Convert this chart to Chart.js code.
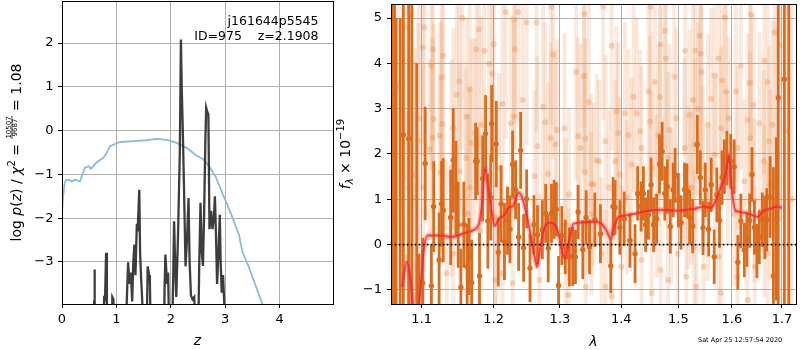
<!DOCTYPE html>
<html><head><meta charset="utf-8">
<script src="https://cdn.jsdelivr.net/npm/chart.js@4.4.1/dist/chart.umd.min.js"></script>
<style>
html,body{margin:0;padding:0;background:#fff;width:800px;height:350px;overflow:hidden}
#c1{position:absolute;left:0;top:0}
#c2{position:absolute;left:334px;top:0}
</style></head>
<body>
<canvas id="c1" width="334" height="350"></canvas>
<canvas id="c2" width="466" height="350"></canvas>
<script>
// ---------- tick labels ----------
const zTicks = [0, 1, 2, 3, 4];
const logPTicks = [-3, -2, -1, 0, 1, 2];
const lamTicks = [1.1, 1.2, 1.3, 1.4, 1.5, 1.6, 1.7];
const fluxTicks = [-1, 0, 1, 2, 3, 4, 5];

// ---------- left panel: redshift PDF ----------
const zBlue = [0.00, 0.02, 0.05, 0.07, 0.12, 0.18, 0.24, 0.33, 0.42, 0.49, 0.53, 0.64, 0.76, 0.82, 0.88, 0.98, 1.07, 1.32, 1.56, 1.74, 1.93, 2.11, 2.30, 2.45, 2.60, 2.70, 2.82, 2.97, 3.10, 3.25, 3.32, 3.43, 3.56, 3.68, 3.80];
const logPrior = [-1.90, -1.50, -1.20, -1.13, -1.12, -1.16, -1.12, -1.16, -0.85, -0.81, -0.875, -0.72, -0.62, -0.51, -0.36, -0.30, -0.26, -0.24, -0.22, -0.19, -0.21, -0.28, -0.40, -0.55, -0.66, -0.81, -1.04, -1.50, -1.88, -2.37, -2.79, -3.10, -3.55, -3.95, -4.40];

const zDark = [0.00, 0.58, 0.59, 0.596, 0.605, 0.62, 0.76, 0.775, 0.79, 0.81, 0.825, 0.84, 0.91, 0.925, 0.945, 0.96,
  1.17, 1.19, 1.215, 1.24, 1.265, 1.29, 1.31, 1.33, 1.35, 1.375, 1.39, 1.42, 1.435, 1.455, 1.475, 1.50,
  1.55, 1.575, 1.60, 1.615, 1.635, 1.87, 1.885, 1.90, 1.93, 1.95, 1.975, 2.02, 2.045, 2.06, 2.085, 2.10,
  2.13, 2.165, 2.185, 2.20, 2.22, 2.245, 2.27, 2.30, 2.325, 2.345, 2.37, 2.40, 2.43, 2.46, 2.50, 2.52,
  2.545, 2.57, 2.59, 2.61, 2.635, 2.65, 2.665, 2.69, 2.71, 2.74, 2.765, 2.79, 2.81, 2.83, 2.85, 2.875,
  2.90, 2.915, 2.935, 2.96, 2.98, 3.00, 5.00];
const logPz = [-5, -5, -3.9, -3.17, -3.9, -5, -5, -3.77, -3.9, -2.79, -3.9, -5, -5, -3.8, -3.85, -5,
  -5, -3.9, -3.01, -3.5, -3.24, -3.9, -3.0, -2.6, -3.3, -2.13, -2.3, -1.35, -2.79, -3.4, -3.9, -5,
  -5, -3.1, -3.3, -3.47, -5, -5, -3.6, -2.83, -3.5, -3.24, -5, -5, -3.2, -2.07, -3.3, -3.8,
  -2.5, -0.5, 2.08, 1.0, 0.0, -1.5, -3.1, -2.4, -1.54, -3.0, -3.77, -3.85, -3.8, -5, -5, -3.2,
  -1.65, -2.8, -3.09, -2.0, -0.2, 0.52, 0.45, 0.37, -2.25, -1.83, -2.25, -2.0, -1.5, -2.4, -3.5, -2.8,
  -1.92, -3.0, -3.7, -3.3, -3.9, -5, -5];

// ---------- right panel: spectrum ----------
const modelLam = [1.0744, 1.0804, 1.0848, 1.0882, 1.0920, 1.0970, 1.1022, 1.1079, 1.1236, 1.1417, 1.1555, 1.1694, 1.1789, 1.1827, 1.1874, 1.1907, 1.1956, 1.2013, 1.2075, 1.2148, 1.2221, 1.2284, 1.2369, 1.2418, 1.2484, 1.2544, 1.2609, 1.2644, 1.2680, 1.2746, 1.2822, 1.2900, 1.2977, 1.3045, 1.3082, 1.3145, 1.3213, 1.3345, 1.3561, 1.3669, 1.3751, 1.3824, 1.3862, 1.3946, 1.4058, 1.4228, 1.4457, 1.4689, 1.4987, 1.5291, 1.5475, 1.5598, 1.5692, 1.5786, 1.5881, 1.5946, 1.5983, 1.6073, 1.6236, 1.6334, 1.6498, 1.6631, 1.6763, 1.6898, 1.7000];
const modelFlux = [-0.93, -0.38, -0.71, -1.29, -1.60, -1.22, -0.20, 0.20, 0.20, 0.17, 0.24, 0.31, 0.46, 0.82, 1.69, 1.40, 0.90, 0.42, 0.57, 0.64, 0.82, 0.86, 1.15, 1.04, 0.68, 0.24, -0.27, -0.49, -0.20, 0.31, 0.49, 0.46, 0.24, -0.20, -0.31, 0.09, 0.46, 0.49, 0.51, 0.46, 0.31, 0.13, 0.31, 0.60, 0.64, 0.68, 0.75, 0.77, 0.75, 0.79, 0.84, 0.81, 0.97, 1.26, 1.55, 1.99, 1.40, 0.75, 0.71, 0.68, 0.61, 0.75, 0.79, 0.84, 0.81];

const darkLam = [
  1.0612, 1.0645, 1.0666, 1.0719, 1.0759, 1.0828, 1.0870, 1.0935, 1.0965, 1.1014,
  1.1047, 1.1130, 1.1161, 1.1234, 1.1268, 1.1290, 1.1392, 1.1428, 1.1465, 1.1496,
  1.1534, 1.1575, 1.1621, 1.1648, 1.1685, 1.1741, 1.1764, 1.1796, 1.1841, 1.1883,
  1.1916, 1.1957, 1.1971, 1.2037, 1.2067, 1.2108, 1.2157, 1.2202, 1.2238, 1.2277,
  1.2322, 1.2367, 1.2397, 1.2442, 1.2487, 1.2538, 1.2598, 1.2652, 1.2727, 1.2778,
  1.2817, 1.2868, 1.2907, 1.2943, 1.2978, 1.3029, 1.3084, 1.3149, 1.3202, 1.3246,
  1.3288, 1.3364, 1.3418, 1.3473, 1.3560, 1.3652, 1.3823, 1.3862, 1.3895, 1.3976, 1.4049,
  1.4148, 1.4235, 1.4280, 1.4339, 1.4379, 1.4419, 1.4466, 1.4513, 1.4558, 1.4610,
  1.4662, 1.4709, 1.4756, 1.4801, 1.4854, 1.4906, 1.4941, 1.5000, 1.5048, 1.5112,
  1.5155, 1.5205, 1.5261, 1.5347, 1.5402, 1.5453, 1.5495, 1.5559, 1.5607, 1.5663,
  1.5713, 1.5764, 1.5812, 1.5857, 1.5905, 1.5980, 1.6045, 1.6117, 1.6176, 1.6244,
  1.6295, 1.6349, 1.6394, 1.6442, 1.6493, 1.6541, 1.6600, 1.6652, 1.6691, 1.6758,
  1.6824, 1.6883, 1.6923, 1.7048, 1.7140];
const darkFlux = [
  8.0, -6.0, -3.0, -4.0, 2.42, 2.34, 7.0, -3.0, -1.5, -0.85,
  1.79, -0.91, 0.84, -0.34, 0.90, 0.76, 0.60, 1.86, 1.24, 0.44,
  -0.94, 0.44, -0.49, -0.26, -0.84, 1.84, 1.84, -0.69, 1.46, 2.45,
  0.52, 1.04, 2.67, 2.22, -0.17, 0.90, 0.07, 0.53, 0.34, 1.77,
  1.21, 0.17, 2.08, -0.07, 1.01, -0.52, 0.44, 0.22, 0.33, 0.69,
  -0.08, 0.69, 0.78, 0.78, -0.90, 0.20, -0.05, -0.27, -0.26, -0.27,
  0.72, -0.11, 0.60, -0.05, 0.55, 0.24, -0.47, 0.84, 0.82, 0.38, 0.57,
  0.09, -0.20, 1.13, 0.84, 1.13, 0.44, 0.66, 1.32, 0.44, 0.57,
  1.78, 2.06, 1.13, 1.28, 0.40, 1.21, 1.53, 0.98, 0.49, 1.21,
  1.19, 0.60, 0.41, 2.21, 1.48, 0.37, 1.21, 0.34, 1.32, -0.27,
  1.10, 0.53, 1.48, 1.72, 1.91, 1.84, 1.72, -0.39, 0.52, -0.12,
  0.11, 0.53, 1.55, 0.38, -0.14, 0.17, 0.55, 0.38, 0.55, 1.05,
  -0.69, 0.57, 3.24, 3.65, -3.0];
const darkErr = [
  12, 12, 8, 9, 6, 6, 10, 7, 1.3, 1.0,
  1.25, 0.9, 1.0, 1.05, 0.95, 1.15, 1.05, 1.15, 1.05, 0.95,
  0.85, 0.95, 0.95, 0.85, 0.95, 0.85, 0.75, 0.95, 0.95, 0.85,
  1.05, 0.95, 0.85, 0.95, 0.75, 0.85, 0.85, 0.75, 0.75, 0.75,
  0.65, 0.75, 0.85, 0.75, 0.65, 0.75, 0.65, 0.65, 0.65, 0.65,
  0.75, 0.65, 0.65, 0.6, 0.65, 0.65, 0.6, 0.65, 0.65, 0.6,
  0.6, 0.65, 0.6, 0.6, 0.6, 0.65, 0.6, 0.65, 0.6, 0.6, 0.6,
  0.6, 0.65, 0.6, 0.55, 0.6, 0.6, 0.55, 0.6, 0.6, 0.55,
  0.65, 0.65, 0.6, 0.6, 0.6, 0.6, 0.6, 0.6, 0.6, 0.6,
  0.6, 0.6, 0.6, 0.65, 0.6, 0.6, 0.6, 0.6, 0.6, 0.6,
  0.6, 0.6, 0.6, 0.6, 0.6, 0.6, 0.6, 0.6, 0.6, 0.6,
  0.6, 0.6, 0.6, 0.6, 0.6, 0.6, 0.6, 0.7, 0.7, 0.9,
  2.4, 1.8, 6, 7, 10];

const faintLam = [
  1.0860, 1.1037, 1.1014, 1.1290, 1.1130, 1.1268, 1.1510, 1.1658, 1.1475, 1.1552,
  1.1786, 1.1750, 1.1865, 1.1934, 1.1161, 1.0960, 1.1143, 1.1244, 1.1275, 1.1106,
  1.0955, 1.1612, 1.1819, 1.1727, 1.1681, 1.1605, 1.1520, 1.1662, 1.1018, 1.0904,
  1.1250, 1.1405, 1.0917, 1.1634, 1.1796, 1.1428, 1.0815, 1.1337, 1.0838, 1.1432,
  1.1152, 1.2175, 1.2360, 1.2862, 1.3388, 1.2302, 1.2487, 1.2637, 1.1999, 1.2310,
  1.2892, 1.3255, 1.3380, 1.1979, 1.2427, 1.2737, 1.3462, 1.2295, 1.2770, 1.2957,
  1.3071, 1.3288, 1.2253, 1.2128, 1.2652, 1.2853, 1.3407, 1.3326, 1.2607, 1.2817,
  1.2928, 1.3395, 1.3500, 1.3141, 1.2078, 1.2028, 1.3090, 1.2128, 1.2277, 1.3135,
  1.2682, 1.3412, 1.2020, 1.3697, 1.4506, 1.3839, 1.4681, 1.4758, 1.4775, 1.5124,
  1.4925, 1.4581, 1.4466, 1.4209, 1.4670, 1.3921, 1.4061, 1.4263, 1.4495, 1.4965,
  1.4840, 1.4645, 1.4322, 1.4122, 1.3946, 1.3737, 1.3630, 1.3791, 1.3538, 1.3590,
  1.3900, 1.3976, 1.4174, 1.4349, 1.4524, 1.4812, 1.5112, 1.5173, 1.4093, 1.4610,
  1.4871, 1.3505, 1.3669, 1.4002, 1.4345, 1.4681, 1.4987, 1.3737, 1.4524, 1.4812,
  1.5143, 1.3839, 1.5868, 1.6375, 1.5391, 1.5310, 1.5415, 1.6851, 1.5745, 1.5812,
  1.5670, 1.5428, 1.6176, 1.6355, 1.6077, 1.5887, 1.6640, 1.6706, 1.5607, 1.5267,
  1.5360, 1.6428, 1.6310, 1.5794, 1.5545, 1.5205, 1.5943, 1.6541, 1.6804, 1.6738,
  1.6360, 1.6111, 1.5675, 1.5300, 1.5453, 1.5918, 1.6627, 1.6244, 1.6765, 1.5235,
  1.5545, 1.6442, 1.6045, 1.6640, 1.5291, 1.5746, 1.5465, 1.6450, 1.6111, 1.6706,
  1.5794, 1.5328, 1.6310, 1.6950, 1.7100, 1.7200, 1.6900, 1.0700, 1.0650, 1.0780];
const faintFlux = [
  5.08, 4.79, 4.35, 4.17, 3.95, 3.70, 3.60, 3.43, 3.30, 5.00,
  4.75, 4.31, 4.28, 3.99, 2.77, 2.79, 2.36, 2.40, 2.66, 2.10,
  2.29, 2.82, 2.64, 2.46, 2.24, 1.91, 1.62, 1.26, 1.26, 1.55,
  1.59, 1.69, 1.04, 0.68, 0.31, -0.20, -0.27, -0.63, 1.26, 2.57,
  4.31, 5.13, 5.13, 5.25, 5.09, 4.96, 4.90, 4.90, 4.42, 4.31,
  4.19, 3.81, 3.72, 3.77, 3.19, 3.04, 3.15, 2.82, 2.70, 2.53,
  2.57, 2.39, 2.68, 3.11, 2.17, 2.35, 2.34, 2.13, 1.51, 1.56,
  2.21, 1.59, 1.33, 1.11, 1.69, 0.60, 0.44, -0.63, -0.85, -1.11,
  -0.78, -0.93, -0.78, 5.25, 5.25, 4.39, 4.42, 4.72, 4.11, 4.28,
  3.70, 3.59, 3.38, 3.26, 3.26, 2.93, 2.90, 2.90, 2.71, 2.79,
  2.53, 2.42, 2.50, 2.42, 2.46, 2.28, 1.84, 1.26, 1.33, 1.86,
  1.84, 1.55, 1.77, 2.13, 1.69, 1.91, 2.13, 1.26, 1.04, 1.07,
  0.82, 0.68, -0.20, -0.49, -0.34, -0.56, -0.20, -0.93, -1.07, -0.78,
  -0.71, -1.14, 5.01, 5.08, 4.61, 4.28, 4.21, 4.68, 4.11, 3.62,
  3.73, 3.81, 3.95, 3.57, 3.38, 3.38, 4.06, 3.59, 3.22, 3.19,
  3.00, 3.08, 2.75, 2.57, 2.64, 2.86, 2.79, 2.68, 2.64, 2.28,
  2.35, 2.13, 1.99, 2.21, 1.69, 1.69, 1.84, 1.40, 1.33, 1.26,
  0.90, 0.97, 0.68, 0.75, -0.05, -0.27, -0.49, -0.49, -0.71, -0.20,
  -1.07, -0.93, -1.22, 4.40, 2.50, 1.00, 1.50, 3.50, 0.50, 4.80];
const faintErr = [
  3.0, 2.6, 2.4, 2.7, 2.3, 2.5, 2.8, 2.4, 2.2, 2.9,
  2.6, 2.3, 2.7, 2.4, 2.1, 2.9, 2.2, 2.5, 2.3, 2.0,
  2.6, 2.2, 2.4, 2.1, 2.3, 2.0, 2.4, 2.2, 2.7, 2.8,
  2.1, 2.4, 3.0, 2.2, 2.1, 2.3, 3.2, 2.5, 2.9, 2.2,
  2.7, 2.8, 2.4, 2.6, 2.5, 2.3, 2.7, 2.4, 2.6, 2.2,
  2.3, 2.4, 2.1, 2.5, 2.2, 2.3, 2.4, 2.1, 2.2, 2.0,
  2.1, 2.2, 2.4, 2.3, 2.0, 2.1, 2.2, 2.3, 1.9, 2.0,
  2.1, 2.2, 2.0, 1.9, 2.1, 2.0, 1.9, 1.8, 2.0, 1.9,
  1.9, 2.0, 2.1, 2.5, 2.7, 2.3, 2.4, 2.6, 2.2, 2.3,
  2.2, 2.1, 2.0, 2.1, 2.2, 1.9, 2.0, 2.1, 1.9, 2.0,
  1.9, 2.0, 1.8, 1.9, 2.0, 1.9, 1.8, 1.7, 1.8, 1.9,
  1.8, 1.7, 1.9, 1.8, 1.7, 1.9, 2.0, 1.8, 1.7, 1.8,
  1.7, 1.8, 1.7, 1.8, 1.6, 1.7, 1.8, 1.7, 1.6, 1.8,
  1.7, 1.6, 2.6, 2.8, 2.4, 2.2, 2.3, 2.9, 2.2, 2.1,
  2.2, 2.1, 2.3, 2.1, 2.0, 2.1, 2.5, 2.3, 2.0, 2.1,
  1.9, 2.0, 1.9, 1.8, 2.0, 1.9, 1.8, 2.0, 2.3, 2.1,
  1.9, 1.8, 1.7, 1.9, 1.8, 1.7, 2.0, 1.8, 2.1, 1.7,
  1.7, 1.8, 1.6, 1.9, 1.7, 1.6, 1.7, 1.8, 1.7, 2.0,
  1.7, 1.8, 1.9, 3.9, 4.4, 4.9, 3.4, 3.4, 4.4, 3.4];

const zeroLam = [1.0, 1.8];
const zeroFlux = [0, 0];

const annotation = ['j161644p5545', 'ID=975    z=2.1908'];
const stamp = 'Sat Apr 25 12:57:54 2020';

// ---------- helpers ----------
const FAM = 'DejaVu Sans';
Chart.defaults.font.family = FAM;
const minusFmt = v => (v < 0 ? '\u2212' + String(-v) : String(v));

function axis(type, min, max, tickList, size, isX, fmt, pad) {
  return {
    type, min, max, bounds: 'data', offset: false,
    afterBuildTicks: s => { s.ticks = tickList.map(v => ({value: v})); },
    afterFit: s => {
      if (isX) s.height = size; else s.width = size;
      s.paddingTop = 0; s.paddingBottom = 0; s.paddingLeft = 0; s.paddingRight = 0;
    },
    grid: {color: '#b0b0b0', lineWidth: 1, tickColor: '#000', tickLength: 4, offset: false, drawTicks: true},
    border: {display: true, color: '#000', width: 1},
    ticks: {color: '#000', font: {family: FAM, size: 13}, padding: pad, autoSkip: false,
            maxRotation: 0, minRotation: 0, callback: fmt}
  };
}

const framePlugin = {
  id: 'frame',
  afterDraw(c) {
    const a = c.chartArea, ctx = c.ctx;
    ctx.save();
    ctx.strokeStyle = '#000'; ctx.lineWidth = 1;
    ctx.strokeRect(Math.round(a.left) + 0.5, Math.round(a.top) + 0.5,
                   Math.round(a.right) - Math.round(a.left), Math.round(a.bottom) - Math.round(a.top));
    ctx.restore();
  }
};

function richText(ctx, parts, cx, cy) {
  ctx.save();
  ctx.translate(cx, cy);
  ctx.rotate(-Math.PI / 2);
  ctx.fillStyle = '#000';
  ctx.textBaseline = 'alphabetic';
  let W = 0;
  for (const p of parts) {
    ctx.font = p.font;
    p.w = p.frac ? Math.max(ctx.measureText(p.num).width, ctx.measureText(p.den).width) + 2
                 : ctx.measureText(p.t).width;
    W += p.w;
  }
  let x = -W / 2;
  for (const p of parts) {
    ctx.font = p.font;
    if (p.frac) {
      ctx.textAlign = 'center';
      ctx.fillText(p.num, x + p.w / 2, p.nd);
      ctx.fillText(p.den, x + p.w / 2, p.dd);
      ctx.fillRect(x + 0.5, p.bd, p.w - 1, 0.7);
    } else {
      ctx.textAlign = 'left';
      ctx.fillText(p.t, x, p.dy || 0);
    }
    x += p.w;
  }
  ctx.restore();
}

const N = '14px ' + FAM, I = 'italic 14px ' + FAM;

const leftText = {
  id: 'leftText',
  afterDraw(c) {
    const ctx = c.ctx, a = c.chartArea;
    ctx.save();
    ctx.fillStyle = '#000';
    ctx.font = '12.5px ' + FAM;
    ctx.textAlign = 'right'; ctx.textBaseline = 'alphabetic';
    ctx.fillText(annotation[0], a.right - 14.5, a.top + 23.5);
    ctx.fillText(annotation[1], a.right - 14.5, a.top + 38.5);
    ctx.font = I; ctx.textAlign = 'center';
    ctx.fillText('z', (a.left + a.right) / 2, 345);
    ctx.restore();
    richText(ctx, [
      {t: 'log ', font: N}, {t: 'p', font: I}, {t: '(', font: N}, {t: 'z', font: I},
      {t: ') / ', font: N}, {t: '\u03c7', font: I}, {t: '2', font: '10px ' + FAM, dy: -6},
      {t: ' = ', font: N},
      {frac: true, num: '10507', den: '9687', font: '7px ' + FAM, nd: -10.3, dd: -3.6, bd: -9.4},
      {t: ' = 1.08', font: N}
    ], 21, (a.top + a.bottom) / 2);
  }
};

const rightText = {
  id: 'rightText',
  afterDraw(c) {
    const ctx = c.ctx, a = c.chartArea;
    ctx.save();
    ctx.fillStyle = '#000';
    ctx.font = I; ctx.textAlign = 'center'; ctx.textBaseline = 'alphabetic';
    ctx.fillText('\u03bb', (a.left + a.right) / 2, 346);
    ctx.font = '6.5px ' + FAM; ctx.textAlign = 'left';
    ctx.fillText(stamp, 364, 341.5);
    ctx.restore();
    richText(ctx, [
      {t: 'f', font: I}, {t: '\u03bb', font: 'italic 10px ' + FAM, dy: 3},
      {t: ' \u00d7 10', font: N}, {t: '\u221219', font: '10px ' + FAM, dy: -6}
    ], 16, (a.top + a.bottom) / 2);
  }
};

const pts = (xs, ys) => xs.map((x, i) => ({x, y: ys[i]}));
const bars = (xs, ys, es) => xs.map((x, i) => ({x, y: [ys[i] - es[i], ys[i] + es[i]]}));

// ---------- left chart ----------
new Chart(document.getElementById('c1'), {
  type: 'line',
  data: {datasets: [
    {data: pts(zDark, logPz), borderColor: 'rgba(45,45,45,0.92)', borderWidth: 2.3, pointRadius: 0, tension: 0, order: 0},
    {data: pts(zBlue, logPrior), borderColor: 'rgb(140,186,218)', borderWidth: 1.8, pointRadius: 0, tension: 0, order: 1}
  ]},
  options: {
    responsive: false, animation: false, devicePixelRatio: 1,
    layout: {padding: {left: 0, right: 1, top: 1, bottom: 0}},
    plugins: {legend: {display: false}, tooltip: {enabled: false}},
    scales: {
      x: axis('linear', 0, 4.98, zTicks, 46, true, v => String(v), 4),
      y: axis('linear', -3.96, 2.96, logPTicks, 62, false, minusFmt, 4.5)
    }
  },
  plugins: [framePlugin, leftText]
});

// ---------- right chart ----------
const orange = 'rgb(219,108,30)';
new Chart(document.getElementById('c2'), {
  type: 'line',
  data: {datasets: [
    {type: 'line', data: pts(zeroLam, zeroFlux), borderColor: '#000', borderWidth: 1.6, borderDash: [1.6, 2.4], pointRadius: 0, order: 0},
    {type: 'line', data: pts(modelLam, modelFlux), borderColor: 'rgba(240,35,30,0.75)', borderWidth: 2, pointRadius: 0, cubicInterpolationMode: 'monotone', order: 1},
    {type: 'line', data: pts(modelLam, modelFlux), borderColor: 'rgba(255,80,80,0.35)', borderWidth: 5, pointRadius: 0, cubicInterpolationMode: 'monotone', order: 2},
    {type: 'line', data: pts(darkLam, darkFlux), showLine: false, pointRadius: 2.7, pointBorderWidth: 0, pointBackgroundColor: orange, order: 3},
    {type: 'bar', data: bars(darkLam, darkFlux, darkErr), backgroundColor: orange, borderWidth: 0, barThickness: 2.8, inflateAmount: 0, stack: 'eb', order: 4},
    {type: 'line', data: pts(faintLam, faintFlux), showLine: false, pointRadius: 3, pointBorderWidth: 0, pointBackgroundColor: 'rgba(228,128,60,0.3)', order: 5},
    {type: 'bar', data: bars(faintLam, faintFlux, faintErr), backgroundColor: 'rgba(235,145,85,0.2)', borderWidth: 0, barThickness: 4, inflateAmount: 0, stack: 'eb', order: 6}
  ]},
  options: {
    responsive: false, animation: false, devicePixelRatio: 1,
    layout: {padding: {left: 0, right: 1, top: 1, bottom: 0}},
    plugins: {legend: {display: false}, tooltip: {enabled: false}},
    scales: {
      x: axis('logarithmic', 1.06, 1.729, lamTicks, 46, true, v => Number(v).toFixed(1), 4),
      y: Object.assign(axis('linear', -1.31, 5.31, fluxTicks, 57, false, minusFmt, 5), {stacked: false})
    }
  },
  plugins: [framePlugin, rightText]
});
</script>
</body></html>
